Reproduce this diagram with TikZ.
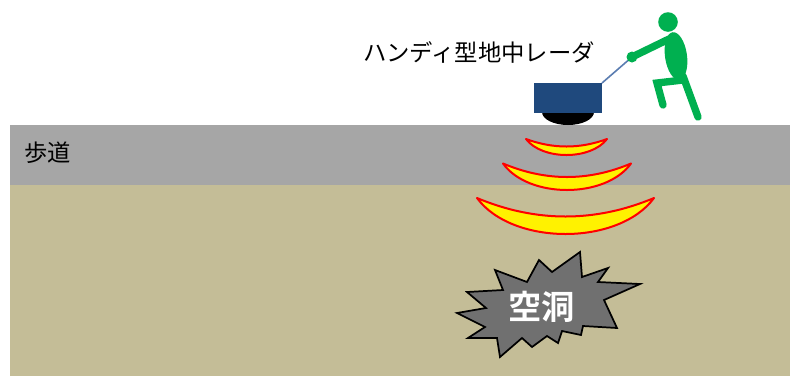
\documentclass[tikz,border=0pt]{standalone}
\usepackage{fontspec}
\newfontfamily\jpfont{Noto Sans CJK JP}[BoldFont={Noto Sans CJK JP Bold}]

\definecolor{walkgray}{RGB}{166,166,166}
\definecolor{soiltan}{RGB}{196,189,151}
\definecolor{radarblue}{RGB}{31,73,125}
\definecolor{handleblue}{RGB}{91,125,177}
\definecolor{mangreen}{RGB}{0,176,80}
\definecolor{voidgray}{RGB}{112,112,112}

\tikzset{every picture/.style={line width=0.75pt}}
\tikzset{
  wave/.style={fill=yellow,draw=red,line width=1.5,line join=round},
  limb/.style={draw=mangreen,line width=5.5,line cap=round},
  label/.style={inner sep=0pt,font=\jpfont\fontsize{17.5}{20}\selectfont},
}
% crescent: centre x, tip y, half width, inner depth, outer depth
\newcommand\wavearc[5]{%
  \draw[wave] ({#1-#3},#2) .. controls ({#1-#3/3},{#2+4*#4/3}) and ({#1+#3/3},{#2+4*#4/3}) .. ({#1+#3},#2)
    .. controls ({#1+0.6*#3},{#2+4*#5/3}) and ({#1-0.6*#3},{#2+4*#5/3}) .. cycle;}

\begin{document}
\begin{tikzpicture}[x=0.75pt,y=0.75pt,yscale=-1,xscale=1]
\useasboundingbox (0,0) rectangle (790,376);
\fill[white] (0,0) rectangle (790,376);

%Ground layers
\fill[walkgray] (10,125) rectangle (790,185);
\fill[soiltan] (10,185) rectangle (790,376);

%Radar cart
\fill[black] (542,112) arc[start angle=180,end angle=0,x radius=26,y radius=13] -- cycle;
\fill[radarblue] (534,83) rectangle (602,113);
\coordinate (cart) at (602,83);
\coordinate (hand) at (632,57);
\draw[handleblue,line width=1.2] (cart) -- (hand);

%Operator
\draw[limb] (669,39) -- (hand);
\draw[limb] (683,80) -- (657,83) -- (663,105);
\draw[limb] (683,76) -- (698,117);
\fill[mangreen] (676,56) ellipse[x radius=11,y radius=24,rotate=-8];
\fill[mangreen] (668,22) circle (9.8);
\fill[mangreen] (hand) circle (5.5);

%Radar waves
\wavearc{566.5}{139}{40.5}{7.5}{16}
\wavearc{567}{163.5}{64}{13.5}{26.5}
\wavearc{565.5}{198}{88.5}{18.5}{36}

%Cavity
\draw[fill=voidgray,line width=1.3,line join=miter]
  (457,313) -- (486,308) -- (467,292) -- (503,290) -- (495,270) -- (527,282)
  -- (539,260) -- (552,272) -- (580,252) -- (582,277) -- (608,268) -- (598,282)
  -- (640,284) -- (604,300) -- (617,328) -- (583,326) -- (581,335) -- (562,331)
  -- (558,343) -- (547,336) -- (532,347) -- (522,338) -- (500,357) -- (497,338)
  -- (468,338) -- (485,327) -- cycle;

\node[label] (radar) at (479,52) {ハンディ型地中レーダ};
\node[label,anchor=west] (walk) at (24,153) {歩道};
\node[inner sep=0pt,text=white,font=\jpfont\bfseries\fontsize{25}{28}\selectfont] (void) at (541.5,307) {空洞};

\end{tikzpicture}
\end{document}
